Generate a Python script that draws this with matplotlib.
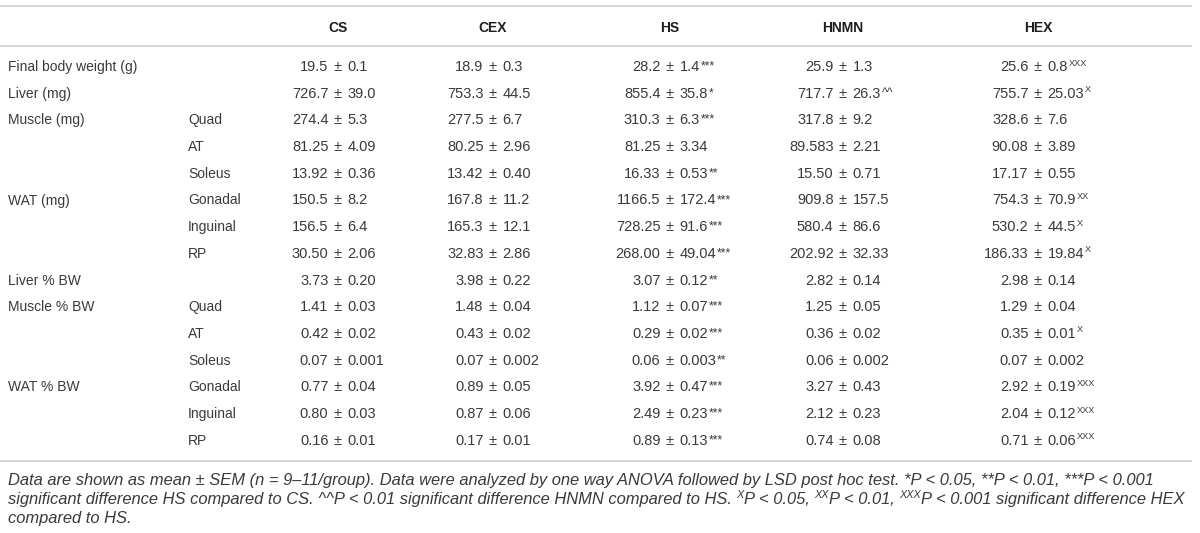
import matplotlib.pyplot as plt

plt.rcParams['font.family'] = ['Liberation Sans', 'DejaVu Sans']

# table content
columns = ["CS", "CEX", "HS", "HNMN", "HEX"]
labels = ["Final body weight (g)", "Liver (mg)", "Muscle (mg)", "", "", "WAT (mg)", "", "",
          "Liver % BW", "Muscle % BW", "", "", "WAT % BW", "", ""]
sublabels = ["", "", "Quad", "AT", "Soleus", "Gonadal", "Inguinal", "RP",
             "", "Quad", "AT", "Soleus", "Gonadal", "Inguinal", "RP"]

cs = ["19.5 ± 0.1", "726.7 ± 39.0", "274.4 ± 5.3", "81.25 ± 4.09", "13.92 ± 0.36",
      "150.5 ± 8.2", "156.5 ± 6.4", "30.50 ± 2.06", "3.73 ± 0.20", "1.41 ± 0.03",
      "0.42 ± 0.02", "0.07 ± 0.001", "0.77 ± 0.04", "0.80 ± 0.03", "0.16 ± 0.01"]
cex = ["18.9 ± 0.3", "753.3 ± 44.5", "277.5 ± 6.7", "80.25 ± 2.96", "13.42 ± 0.40",
       "167.8 ± 11.2", "165.3 ± 12.1", "32.83 ± 2.86", "3.98 ± 0.22", "1.48 ± 0.04",
       "0.43 ± 0.02", "0.07 ± 0.002", "0.89 ± 0.05", "0.87 ± 0.06", "0.17 ± 0.01"]
hs = ["28.2 ± 1.4", "855.4 ± 35.8", "310.3 ± 6.3", "81.25 ± 3.34", "16.33 ± 0.53",
      "1166.5 ± 172.4", "728.25 ± 91.6", "268.00 ± 49.04", "3.07 ± 0.12", "1.12 ± 0.07",
      "0.29 ± 0.02", "0.06 ± 0.003", "3.92 ± 0.47", "2.49 ± 0.23", "0.89 ± 0.13"]
hnmn = ["25.9 ± 1.3", "717.7 ± 26.3", "317.8 ± 9.2", "89.583 ± 2.21", "15.50 ± 0.71",
        "909.8 ± 157.5", "580.4 ± 86.6", "202.92 ± 32.33", "2.82 ± 0.14", "1.25 ± 0.05",
        "0.36 ± 0.02", "0.06 ± 0.002", "3.27 ± 0.43", "2.12 ± 0.23", "0.74 ± 0.08"]
hex_ = ["25.6 ± 0.8", "755.7 ± 25.03", "328.6 ± 7.6", "90.08 ± 3.89", "17.17 ± 0.55",
        "754.3 ± 70.9", "530.2 ± 44.5", "186.33 ± 19.84", "2.98 ± 0.14", "1.29 ± 0.04",
        "0.35 ± 0.01", "0.07 ± 0.002", "2.92 ± 0.19", "2.04 ± 0.12", "0.71 ± 0.06"]

empty = [""] * 15
hs_sig = ["***", "*", "***", "", "**", "***", "***", "***", "**", "***", "***", "**", "***", "***", "***"]
hnmn_sig = ["", "^^", "", "", "", "", "", "", "", "", "", "", "", "", ""]
hex_sig = ["XXX", "X", "", "", "", "XX", "X", "X", "", "", "X", "", "XXX", "XXX", "XXX"]

caption = [
    [("Data are shown as mean ± SEM (n = 9–11/group). Data were analyzed by one way ANOVA followed by "
      "LSD post hoc test. *P < 0.05, **P < 0.01, ***P < 0.001", False)],
    [("significant difference HS compared to CS. ^^P < 0.01 significant difference HNMN compared to HS. ", False),
     ("X", True), ("P < 0.05, ", False), ("XX", True), ("P < 0.01, ", False), ("XXX", True),
     ("P < 0.001 significant difference HEX", False)],
    [("compared to HS.", False)],
]

fig = plt.figure(figsize=(12, 5.33), dpi=100)
ax = fig.add_axes([0, 0, 1, 1])
ax.set_xlim(0, 1200)
ax.set_ylim(533, 0)
ax.axis('off')
renderer = fig.canvas.get_renderer()

txt_col = '#3a3a3a'
fs = 10
num_fs = 10.5
cap_fs = 11.9
col_x = [338, 493, 670, 843, 1038]
row_base0, row_dy = 71, 26.7   # baselines
gap = 9.5


def right_edge(t):
    bb = t.get_window_extent(renderer)
    return ax.transData.inverted().transform((bb.x1, bb.y1))[0]


# rules
for y in [6, 45.5, 461]:
    ax.plot([0, 1192], [y, y], color='#d6d6d6', lw=1.4, solid_capstyle='butt')

# header
for name, x in zip(columns, col_x):
    ax.text(x, 32, name, ha='center', va='baseline', fontsize=fs, fontweight='bold', color='#1e1e1e')

# body
data = [cs, cex, hs, hnmn, hex_]
sigs = [empty, empty, hs_sig, hnmn_sig, hex_sig]
for i in range(len(labels)):
    y = row_base0 + i * row_dy
    ax.text(8, y, labels[i], ha='left', va='baseline', fontsize=fs, color=txt_col)
    ax.text(188, y, sublabels[i], ha='left', va='baseline', fontsize=fs, color=txt_col)
    for vals, sg, x in zip(data, sigs, col_x):
        left, right = vals[i].split(" ± ")
        ax.text(x - gap, y, left, ha='right', va='baseline', fontsize=num_fs, color=txt_col)
        ax.text(x, y, "±", ha='center', va='baseline', fontsize=num_fs, color=txt_col)
        t = ax.text(x + gap, y, right, ha='left', va='baseline', fontsize=num_fs, color=txt_col)
        if sg[i]:
            xe = right_edge(t)
            if sg[i].startswith('X'):
                ax.text(xe + 0.5, y - 5.5, sg[i], ha='left', va='baseline', fontsize=6.6, color=txt_col)
            else:
                ax.text(xe + 0.8, y - 1.5, sg[i], ha='left', va='baseline', fontsize=8.8, color=txt_col)

# footnote
cap_base = [485, 504, 523]
for line, y in zip(caption, cap_base):
    x = 8
    for seg, sup in line:
        if sup:
            t = ax.text(x, y - 6, seg, ha='left', va='baseline', fontsize=7.8, style='italic', color=txt_col)
        else:
            t = ax.text(x, y, seg, ha='left', va='baseline', fontsize=cap_fs, style='italic', color=txt_col)
        x = right_edge(t)

fig.savefig('out.png', dpi=100)
